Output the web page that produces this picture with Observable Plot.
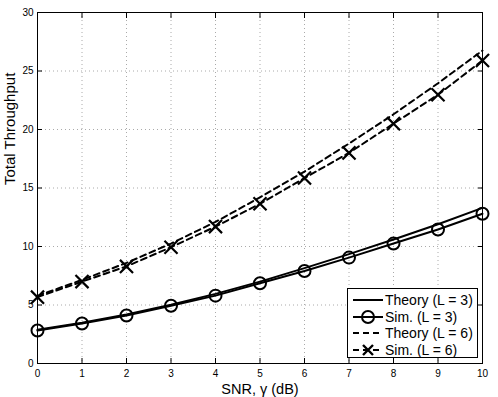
<!DOCTYPE html>
<html>
<head>
<meta charset="utf-8">
<script src="https://cdn.jsdelivr.net/npm/d3@7"></script>
<script src="https://cdn.jsdelivr.net/npm/@observablehq/plot@0.6"></script>
<style>
  html, body { margin: 0; padding: 0; background: #fff; }
  #wrap { position: relative; width: 498px; height: 397px; font-family: "Liberation Sans", Arial, sans-serif; }
  #legend { position: absolute; left: 347px; top: 288px; width: 131px; height: 70px; border: 1px solid #000; background: #fff; box-sizing: border-box; font-size: 14px; }
  .row { position: absolute; left: 4px; height: 16px; display: flex; align-items: center; white-space: nowrap; }
  .row svg { width: 32px; height: 16px; margin-right: 1px; }
</style>
</head>
<body>
<div id="wrap"></div>
<script>
const snr = [0, 1, 2, 3, 4, 5, 6, 7, 8, 9, 10];
const theoryL3 = [2.88, 3.48, 4.2, 5.02, 5.95, 7.0, 8.15, 9.35, 10.6, 11.9, 13.3];
const simL3    = [2.82, 3.42, 4.1, 4.93, 5.8, 6.86, 7.9, 9.05, 10.25, 11.45, 12.8];
const theoryL6 = [5.78, 7.15, 8.6, 10.25, 12.1, 14.2, 16.4, 18.8, 21.3, 23.95, 26.75];
const simL6    = [5.67, 7.0, 8.3, 9.94, 11.7, 13.65, 15.85, 18.0, 20.5, 22.97, 25.9];
const xTicks = [0, 1, 2, 3, 4, 5, 6, 7, 8, 9, 10];
const yTicks = [0, 5, 10, 15, 20, 25, 30];
const legendLabels = ["Theory (L = 3)", "Sim. (L = 3)", "Theory (L = 6)", "Sim. (L = 6)"];

const toRows = (ys) => snr.map((x, i) => ({x, y: ys[i]}));
const tL3 = toRows(theoryL3), sL3 = toRows(simL3), tL6 = toRows(theoryL6), sL6 = toRows(simL6);

const font = "Liberation Sans, Arial, sans-serif";
const chart = Plot.plot({
  width: 498,
  height: 397,
  marginLeft: 37,
  marginRight: 16,
  marginTop: 12,
  marginBottom: 34,
  style: {fontFamily: font, fontSize: "10px", background: "#fff", color: "#000"},
  x: {domain: [0, 10], ticks: xTicks},
  y: {domain: [0, 30], ticks: yTicks},
  marks: [
    Plot.gridX(xTicks, {stroke: "#aaa", strokeOpacity: 1, strokeDasharray: "1,3"}),
    Plot.gridY(yTicks, {stroke: "#aaa", strokeOpacity: 1, strokeDasharray: "1,3"}),
    Plot.axisX(xTicks, {anchor: "bottom", tickSize: -5, tickPadding: 11, label: null, fontSize: 10}),
    Plot.axisX(xTicks, {anchor: "top", tickSize: -5, tickFormat: () => "", label: null}),
    Plot.axisY(yTicks, {anchor: "left", tickSize: -5, tickPadding: 9, label: null, fontSize: 10}),
    Plot.axisY(yTicks, {anchor: "right", tickSize: -5, tickFormat: () => "", label: null}),
    Plot.frame({stroke: "#000", strokeWidth: 1}),
    Plot.line(tL3, {x: "x", y: "y", stroke: "#000", strokeWidth: 2}),
    Plot.line(sL3, {x: "x", y: "y", stroke: "#000", strokeWidth: 2}),
    Plot.dot(sL3, {x: "x", y: "y", r: 6, symbol: "circle", stroke: "#000", strokeWidth: 2, fill: "none"}),
    Plot.line(tL6, {x: "x", y: "y", stroke: "#000", strokeWidth: 2, strokeDasharray: "6,4"}),
    Plot.line(sL6, {x: "x", y: "y", stroke: "#000", strokeWidth: 2, strokeDasharray: "6,4"}),
    Plot.dot(sL6, {x: "x", y: "y", r: 6, symbol: "times", stroke: "#000", strokeWidth: 2.2}),
    Plot.text(["SNR, γ (dB)"], {frameAnchor: "bottom", dy: 30, lineAnchor: "bottom", fontSize: 14.5, fill: "#000"}),
    Plot.text(["Total Throughput"], {frameAnchor: "left", dx: -27, dy: -3, rotate: -90, fontSize: 15, fill: "#000"})
  ]
});
const wrap = document.getElementById("wrap");
wrap.appendChild(chart);

// Legend
const legend = document.createElement("div");
legend.id = "legend";
const samples = [
  `<line x1="1" y1="8" x2="31" y2="8" stroke="#000" stroke-width="2"/>`,
  `<line x1="1" y1="8" x2="31" y2="8" stroke="#000" stroke-width="2"/><circle cx="16" cy="8" r="6" fill="none" stroke="#000" stroke-width="2"/>`,
  `<line x1="1" y1="8" x2="31" y2="8" stroke="#000" stroke-width="2" stroke-dasharray="6,4"/>`,
  `<line x1="1" y1="8" x2="31" y2="8" stroke="#000" stroke-width="2" stroke-dasharray="6,4"/><path d="M11,3L21,13M21,3L11,13" stroke="#000" stroke-width="2.4"/>`
];
legendLabels.forEach((lab, i) => {
  const row = document.createElement("div");
  row.className = "row";
  row.style.top = (3 + i * 16.7) + "px";
  row.innerHTML = `<svg viewBox="0 0 32 16">${samples[i]}</svg><span>${lab}</span>`;
  legend.appendChild(row);
});
wrap.appendChild(legend);
</script>
</body>
</html>
